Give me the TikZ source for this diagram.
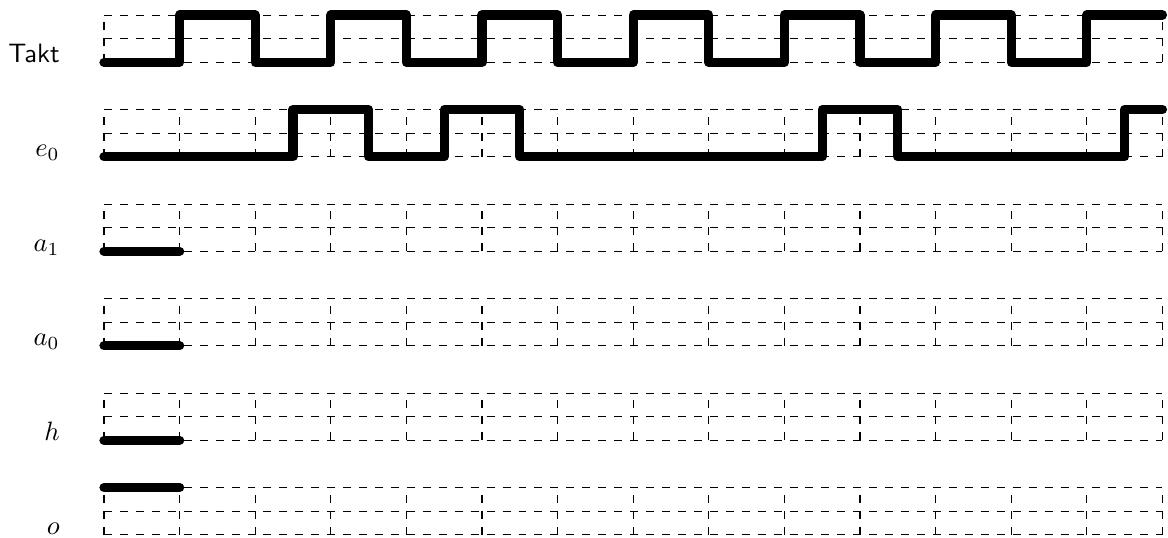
\documentclass[tikz,border=0pt]{standalone}
\usepackage{tikz}
\usetikzlibrary{positioning}

\tikzset{
  gridline/.style={dashed},
  signal/.style={line width=3.5pt, line cap=round, line join=round},
  siglabel/.style={anchor=base east, inner sep=0pt}
}

\begin{document}
\begin{tikzpicture}[x=1cm, y=0.3125cm]
    \useasboundingbox (-1.376,2.637) rectangle (14.074,-20.134);

    % Raster
    \foreach \k in {0,...,5}
      \draw[gridline] (0,-4*\k) grid[xstep=1cm, ystep=0.3125cm] (14,-4*\k+2);

    % Beschriftung
    \node[siglabel] (takt) at (-0.58,0) {\textsf{Takt}};
    \node[siglabel] (e0) at (-0.58,-4) {$e_0$};
    \node[siglabel] (a1) at (-0.58,-8) {$a_1$};
    \node[siglabel] (a0) at (-0.58,-12) {$a_0$};
    \node[siglabel] (h) at (-0.58,-16) {$h$};
    \node[siglabel] (o) at (-0.58,-20) {$o$};

    % Signale
    \draw[signal] (0,0) foreach \i in {1,3,...,11} {-- (\i,0) -- (\i,2) -- (\i+1,2) -- (\i+1,0)}
      -- (13,0) -- (13,2) -- (14,2);
    \draw[signal] (0,-4) -- (2.5,-4) -- (2.5,-2) -- (3.5,-2) -- (3.5,-4) -- (4.5,-4) -- (4.5,-2)
      -- (5.5,-2) -- (5.5,-4) -- (9.5,-4) -- (9.5,-2) -- (10.5,-2) -- (10.5,-4) -- (13.5,-4)
      -- (13.5,-2) -- (14,-2);
    \draw[signal] (0,-8) -- (1,-8);
    \draw[signal] (0,-12) -- (1,-12);
    \draw[signal] (0,-16) -- (1,-16);
    \draw[signal] (0,-18) -- (1,-18);
\end{tikzpicture}
\end{document}
